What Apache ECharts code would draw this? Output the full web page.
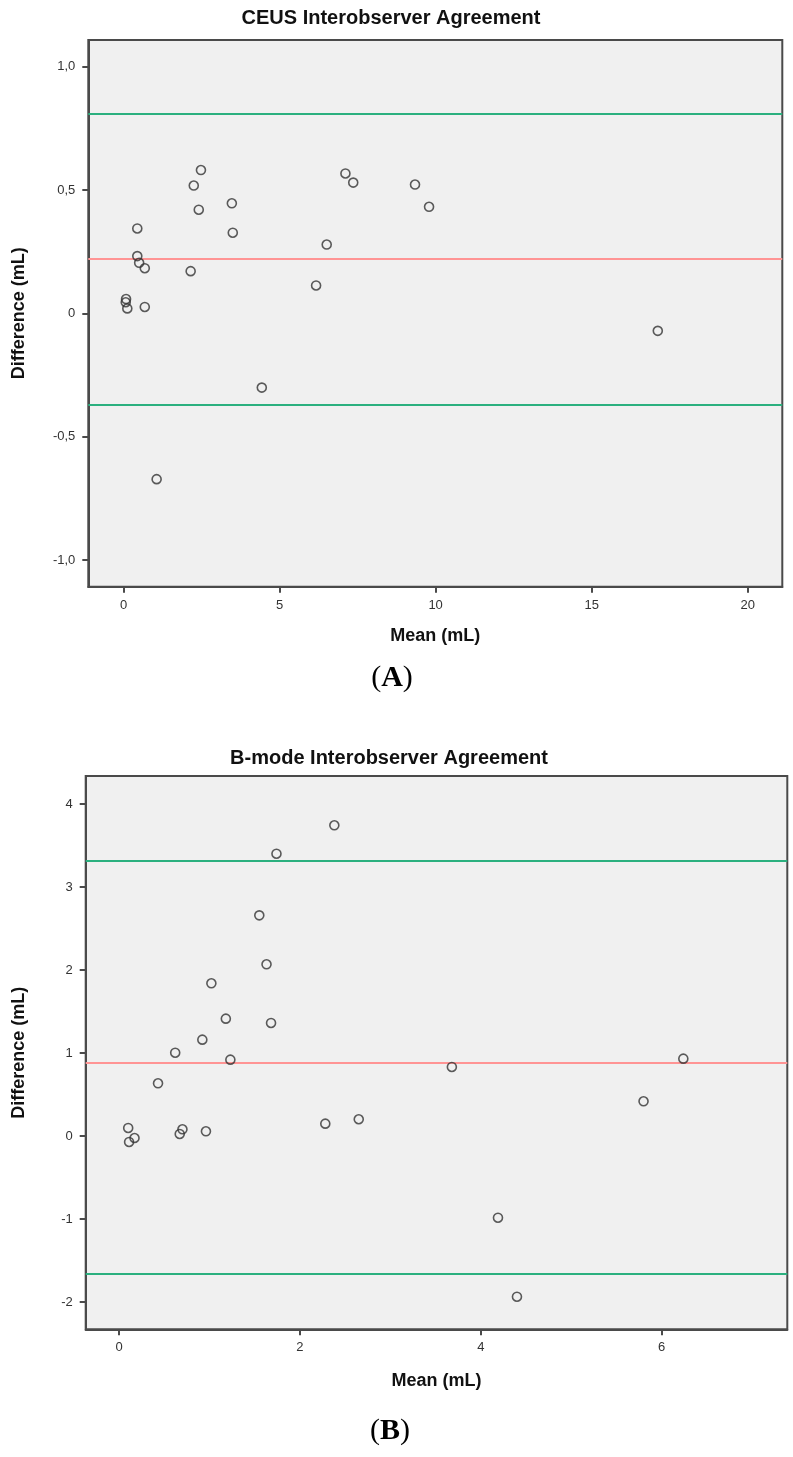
<!DOCTYPE html>
<html>
<head>
<meta charset="utf-8">
<script src="https://cdn.jsdelivr.net/npm/echarts@6/dist/echarts.min.js"></script>
<style>
html,body{margin:0;padding:0;background:#fff;}
#chart{width:793px;height:1457px;}
</style>
</head>
<body>
<div id="chart"></div>
<script>
// ---- Panel A: CEUS ----
const titleA = 'CEUS Interobserver Agreement';
const meanA = [0.08,0.07,0.12,0.68,0.44,0.44,0.50,0.68,2.15,2.25,2.48,2.41,3.47,3.50,6.17,6.51,7.11,7.36,9.34,9.79,17.12,4.43,1.06];
const diffA = [0.058,0.045,0.020,0.026,0.344,0.232,0.205,0.183,0.171,0.518,0.581,0.420,0.446,0.327,0.113,0.279,0.567,0.530,0.522,0.432,-0.071,-0.301,-0.672];
const limitsA = [0.806, 0.217, -0.374];   // upper LoA, mean bias, lower LoA
const xTicksA = [0, 5, 10, 15, 20];
const yTicksA = [-1, -0.5, 0, 0.5, 1];
const xRangeA = [-1.13, 21.11];
const yRangeA = [-1.108, 1.108];

// ---- Panel B: B-mode ----
const titleB = 'B-mode Interobserver Agreement';
const meanB = [2.38,1.74,1.55,1.63,1.02,1.18,1.68,0.92,0.62,1.23,0.43,0.10,0.11,0.17,0.67,0.70,0.96,2.28,2.65,3.68,6.24,4.19,4.40,5.80];
const diffB = [3.746,3.404,2.661,2.071,1.842,1.416,1.364,1.163,1.006,0.922,0.637,0.099,-0.070,-0.022,0.027,0.083,0.059,0.151,0.204,0.834,0.934,-0.982,-1.934,0.420];
const limitsB = [3.316, 0.878, -1.664];
const xTicksB = [0, 2, 4, 6];
const yTicksB = [-2, -1, 0, 1, 2, 3, 4];
const xRangeB = [-0.37, 7.39];
const yRangeB = [-2.327, 4.34];

const xName = 'Mean (mL)';
const yName = 'Difference (mL)';
const panelLabels = ['A', 'B'];

const limitColors = ['#2bb07f', '#ff9494', '#2bb07f'];
const FONT = '"Liberation Sans", Arial, sans-serif';
const frame = '#4a4a4a';

function fmtY(v) {
  if (v === 0) return '0';
  return v.toFixed(1).replace('.', ',');
}
function fmtYInt(v) { return String(v); }

function makeX(idx, range, ticks, gap) {
  return {
    type: 'value', gridIndex: idx, min: range[0], max: range[1],
    name: xName, nameLocation: 'middle', nameGap: gap,
    nameTextStyle: {fontFamily: FONT, fontSize: 18, fontWeight: 'bold', color: '#111'},
    axisLine: {show: true, onZero: false, lineStyle: {color: frame, width: 2}},
    axisTick: {show: true, length: 6, lineStyle: {color: frame, width: 2}, customValues: ticks},
    axisLabel: {show: true, margin: 12, fontFamily: FONT, fontSize: 13, color: '#333', customValues: ticks, formatter: v => String(v)},
    splitLine: {show: false}
  };
}
function makeY(idx, range, ticks, gap, fmt) {
  return {
    type: 'value', gridIndex: idx, min: range[0], max: range[1],
    name: yName, nameLocation: 'middle', nameGap: gap, nameRotate: 90,
    nameTextStyle: {fontFamily: FONT, fontSize: 18, fontWeight: 'bold', color: '#111'},
    axisLine: {show: true, onZero: false, lineStyle: {color: frame, width: 2}},
    axisTick: {show: true, length: 6, lineStyle: {color: frame, width: 2}, customValues: ticks},
    axisLabel: {show: true, margin: 13, fontFamily: FONT, fontSize: 13, color: '#333', customValues: ticks, formatter: fmt},
    splitLine: {show: false}
  };
}
function scatterSeries(idx, xs, ys, limits) {
  return {
    type: 'scatter', xAxisIndex: idx, yAxisIndex: idx, z: 10,
    symbol: 'circle', symbolSize: 9,
    itemStyle: {color: 'rgba(0,0,0,0)', borderColor: '#333', borderWidth: 1.6},
    data: xs.map((x, i) => [x, ys[i]]),
    markLine: {
      silent: true, z: 1, symbol: ['none', 'none'], label: {show: false},
      data: limits.map((v, i) => ({yAxis: v, lineStyle: {color: limitColors[i], width: 2, type: 'solid'}}))
    },
    animation: false
  };
}

const chart = echarts.init(document.getElementById('chart'), null, {renderer: 'canvas'});
chart.setOption({
  backgroundColor: '#ffffff',
  animation: false,
  grid: [
    {left: 88.3, top: 40, width: 694, height: 546.7, show: true, backgroundColor: '#f0f0f0', borderColor: frame, borderWidth: 2, containLabel: false},
    {left: 85.7, top: 776, width: 701.6, height: 553.3, show: true, backgroundColor: '#f0f0f0', borderColor: frame, borderWidth: 2, containLabel: false}
  ],
  xAxis: [makeX(0, xRangeA, xTicksA, 40), makeX(1, xRangeB, xTicksB, 43)],
  yAxis: [makeY(0, yRangeA, yTicksA, 60, fmtY), makeY(1, yRangeB, yTicksB, 58, fmtYInt)],
  series: [scatterSeries(0, meanA, diffA, limitsA), scatterSeries(1, meanB, diffB, limitsB)],
  graphic: [
    {type: 'text', x: 391, y: 18, style: {text: titleA, font: 'bold 20px ' + FONT, fill: '#111', textAlign: 'center', textVerticalAlign: 'middle'}},
    {type: 'text', x: 389, y: 758, style: {text: titleB, font: 'bold 20px ' + FONT, fill: '#111', textAlign: 'center', textVerticalAlign: 'middle'}},
    {type: 'text', x: 392, y: 678, style: {
      text: '{p|(}{b|' + panelLabels[0] + '}{p|)}', textAlign: 'center', textVerticalAlign: 'middle',
      rich: {p: {font: '30px "Liberation Serif", "Times New Roman", serif', fill: '#000'}, b: {font: 'bold 30px "Liberation Serif", "Times New Roman", serif', fill: '#000'}}
    }},
    {type: 'text', x: 390, y: 1431, style: {
      text: '{p|(}{b|' + panelLabels[1] + '}{p|)}', textAlign: 'center', textVerticalAlign: 'middle',
      rich: {p: {font: '30px "Liberation Serif", "Times New Roman", serif', fill: '#000'}, b: {font: 'bold 30px "Liberation Serif", "Times New Roman", serif', fill: '#000'}}
    }}
  ]
});
</script>
</body>
</html>
